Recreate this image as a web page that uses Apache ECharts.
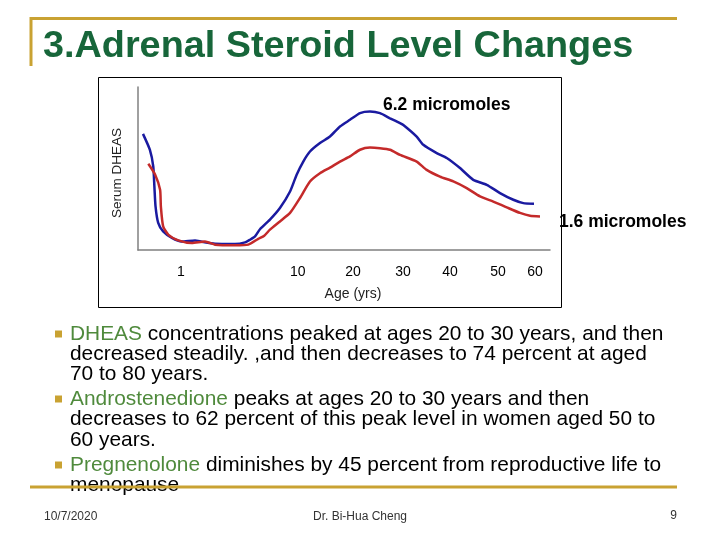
<!DOCTYPE html>
<html><head><meta charset="utf-8">
<script src="https://cdn.jsdelivr.net/npm/echarts@6/dist/echarts.min.js"></script>
<style>html,body{margin:0;padding:0;background:#fff}#c{width:720px;height:540px}</style>
</head><body><div id="c"></div>
<script>
// ---- data (ages in years, Serum DHEAS in micromoles) ----
const tickAges = [0, 1, 10, 20, 30, 40, 50, 60];
const tickLabels = ['1', '10', '20', '30', '40', '50', '60'];
const labelAges = [1, 10, 20, 30, 40, 50, 60];
// relative place of each tick age along the (non-linear) printed age axis, % of axis length
const tickAxisPct = [1.21, 10.44, 38.76, 52.18, 64.32, 75.73, 87.38, 96.36];

const blueAge = [0.0,0.18,0.27,0.30,0.33,0.40,0.53,0.76,1.05,2.08,2.60,3.62,5.16,5.94,6.32,6.71,7.09,7.86,8.63,9.41,9.92,11.01,12.22,14.03,15.84,17.65,19.46,21.4,23.4,25.4,27.4,29.4,30.07,32.91,34.32,37.17,39.30,42.08,44.85,47.65,50.54,54.14,56.84,59.73];
const blueVal = [5.20,4.49,3.74,2.84,1.95,1.21,0.83,0.54,0.38,0.43,0.37,0.28,0.27,0.34,0.46,0.61,0.93,1.36,1.88,2.62,3.37,3.96,4.41,4.79,5.08,5.53,5.83,6.13,6.20,6.13,5.90,5.68,5.60,5.08,4.71,4.34,4.12,3.67,3.14,2.92,2.55,2.25,2.10,2.07];
const redAge = [0.14,0.32,0.45,0.47,0.53,0.67,0.93,1.83,2.85,3.62,5.16,6.19,6.96,7.42,7.86,8.63,9.41,10.42,12.22,14.03,15.84,17.65,19.46,21.4,23.4,25.4,27.4,29.4,32.91,35.04,37.87,40.69,43.48,46.25,49.02,52.35,55.95,58.65,61.35];
const redVal = [3.86,3.37,2.70,1.95,1.06,0.68,0.43,0.31,0.38,0.24,0.21,0.24,0.50,0.64,0.91,1.28,1.66,2.33,3.07,3.44,3.69,3.96,4.19,4.49,4.59,4.56,4.49,4.26,3.96,3.59,3.29,3.07,2.77,2.40,2.17,1.91,1.66,1.53,1.50];

const titleText = '3.Adrenal Steroid Level Changes';
const peakNote = '6.2 micromoles';
const endNote = '1.6 micromoles';
const bulletLines = [
  ['{g|DHEAS} concentrations peaked at ages 20 to 30 years, and then', true],
  ['decreased steadily. ,and then decreases to 74 percent at aged', false],
  ['70 to 80 years.', false],
  ['{g|Androstenedione} peaks at ages 20 to 30 years and then', true],
  ['decreases to 62 percent of this peak level in women aged 50 to', false],
  ['60 years.', false],
  ['{g|Pregnenolone} diminishes by 45 percent from reproductive life to', true],
  ['menopause', false]
];
const footerDate = '10/7/2020';
const footerAuthor = 'Dr. Bi-Hua Cheng';
const footerPage = '9';

// ---- age -> axis place (piecewise linear along the printed scale) ----
function agePos(a) {
  const n = tickAges.length;
  let i = 0;
  while (i < n - 2 && a > tickAges[i + 1]) i++;
  const a0 = tickAges[i], a1 = tickAges[i + 1];
  const p0 = tickAxisPct[i], p1 = tickAxisPct[i + 1];
  return p0 + (a - a0) * (p1 - p0) / (a1 - a0);
}
const blueData = blueAge.map((a, i) => [agePos(a), blueVal[i]]);
const redData = redAge.map((a, i) => [agePos(a), redVal[i]]);
const labelPos = labelAges.map(agePos);

const FF = 'Liberation Sans, Arial, sans-serif';
const gold = '#c9a232';
const BF = 20.9;

const graphics = [
  // slide decorations
  {type:'line', shape:{x1:30,y1:18.5,x2:677,y2:18.5}, style:{stroke:gold,lineWidth:3}},
  {type:'line', shape:{x1:31,y1:17,x2:31,y2:66}, style:{stroke:gold,lineWidth:3}},
  {type:'text', x:43, y:47, style:{text:titleText, fill:'#17663a', fontSize:37.8, fontWeight:'bold', fontFamily:FF, textAlign:'left', textVerticalAlign:'middle'}},
  // chart frame
  {type:'rect', shape:{x:98.5,y:77.5,width:463,height:230}, style:{fill:'none',stroke:'#000',lineWidth:1}, z:-10},
  // axis names
  {type:'text', x:117.5, y:173, rotation:Math.PI/2, style:{text:'Serum DHEAS', fill:'#222', fontSize:13.5, fontFamily:FF, textAlign:'center', textVerticalAlign:'middle'}},
  {type:'text', x:353, y:294, style:{text:'Age (yrs)', fill:'#222', fontSize:14, fontFamily:FF, textAlign:'center', textVerticalAlign:'middle'}},
  // notes
  {type:'text', x:383, y:105, style:{text:peakNote, fill:'#000', fontSize:17.5, fontWeight:'bold', fontFamily:FF, textAlign:'left', textVerticalAlign:'middle'}},
  {type:'text', x:559, y:222, style:{text:endNote, fill:'#000', fontSize:17.5, fontWeight:'bold', fontFamily:FF, textAlign:'left', textVerticalAlign:'middle'}},
  // footer
  {type:'line', shape:{x1:30,y1:487,x2:677,y2:487}, style:{stroke:gold,lineWidth:3}, z:50},
  {type:'text', x:44, y:517, style:{text:footerDate, fill:'#333', fontSize:12, fontFamily:FF, textAlign:'left', textVerticalAlign:'middle'}},
  {type:'text', x:360, y:517, style:{text:footerAuthor, fill:'#333', fontSize:12, fontFamily:FF, textAlign:'center', textVerticalAlign:'middle'}},
  {type:'text', x:677, y:516, style:{text:footerPage, fill:'#333', fontSize:12, fontFamily:FF, textAlign:'right', textVerticalAlign:'middle'}}
];
const lineYs = [334, 354, 374, 399, 419, 440, 465, 485];
bulletLines.forEach((b, i) => {
  if (b[1]) graphics.push({type:'rect', shape:{x:55,y:lineYs[i]-3.5,width:7,height:7}, style:{fill:gold}});
  graphics.push({type:'text', x:70, y:lineYs[i], style:{
    text:b[0], fill:'#000', fontSize:BF, fontFamily:FF, textAlign:'left', textVerticalAlign:'middle',
    rich:{g:{fill:'#4f8a3c', fontSize:BF, fontFamily:FF}}
  }});
});

const chart = echarts.init(document.getElementById('c'), null, {renderer:'canvas'});
chart.setOption({
  animation:false,
  backgroundColor:'#fff',
  grid:{left:138, right:170, top:87, bottom:290},
  xAxis:{type:'value', min:0, max:100,
    axisLine:{show:true, lineStyle:{color:'#808080', width:1.5}},
    axisTick:{show:false}, splitLine:{show:false},
    axisLabel:{customValues:labelPos, margin:15, color:'#000', fontSize:14, fontFamily:FF,
      formatter:function(v){
        let best = 0, d = 1e9;
        labelPos.forEach((p, k) => { if (Math.abs(p - v) < d) { d = Math.abs(p - v); best = k; } });
        return tickLabels[best];
      }}
  },
  yAxis:{type:'value', min:0, max:7.3,
    axisLine:{show:true, lineStyle:{color:'#808080', width:1.5}},
    axisTick:{show:false}, splitLine:{show:false}, axisLabel:{show:false}},
  series:[
    {type:'line', name:'DHEAS (men)', data:blueData, showSymbol:false, smooth:0.2,
      lineStyle:{color:'#1a1aa0', width:2.5}},
    {type:'line', name:'DHEAS (women)', data:redData, showSymbol:false, smooth:0.2,
      lineStyle:{color:'#c42a2a', width:2.5}}
  ],
  graphic:graphics
});
</script></body></html>
